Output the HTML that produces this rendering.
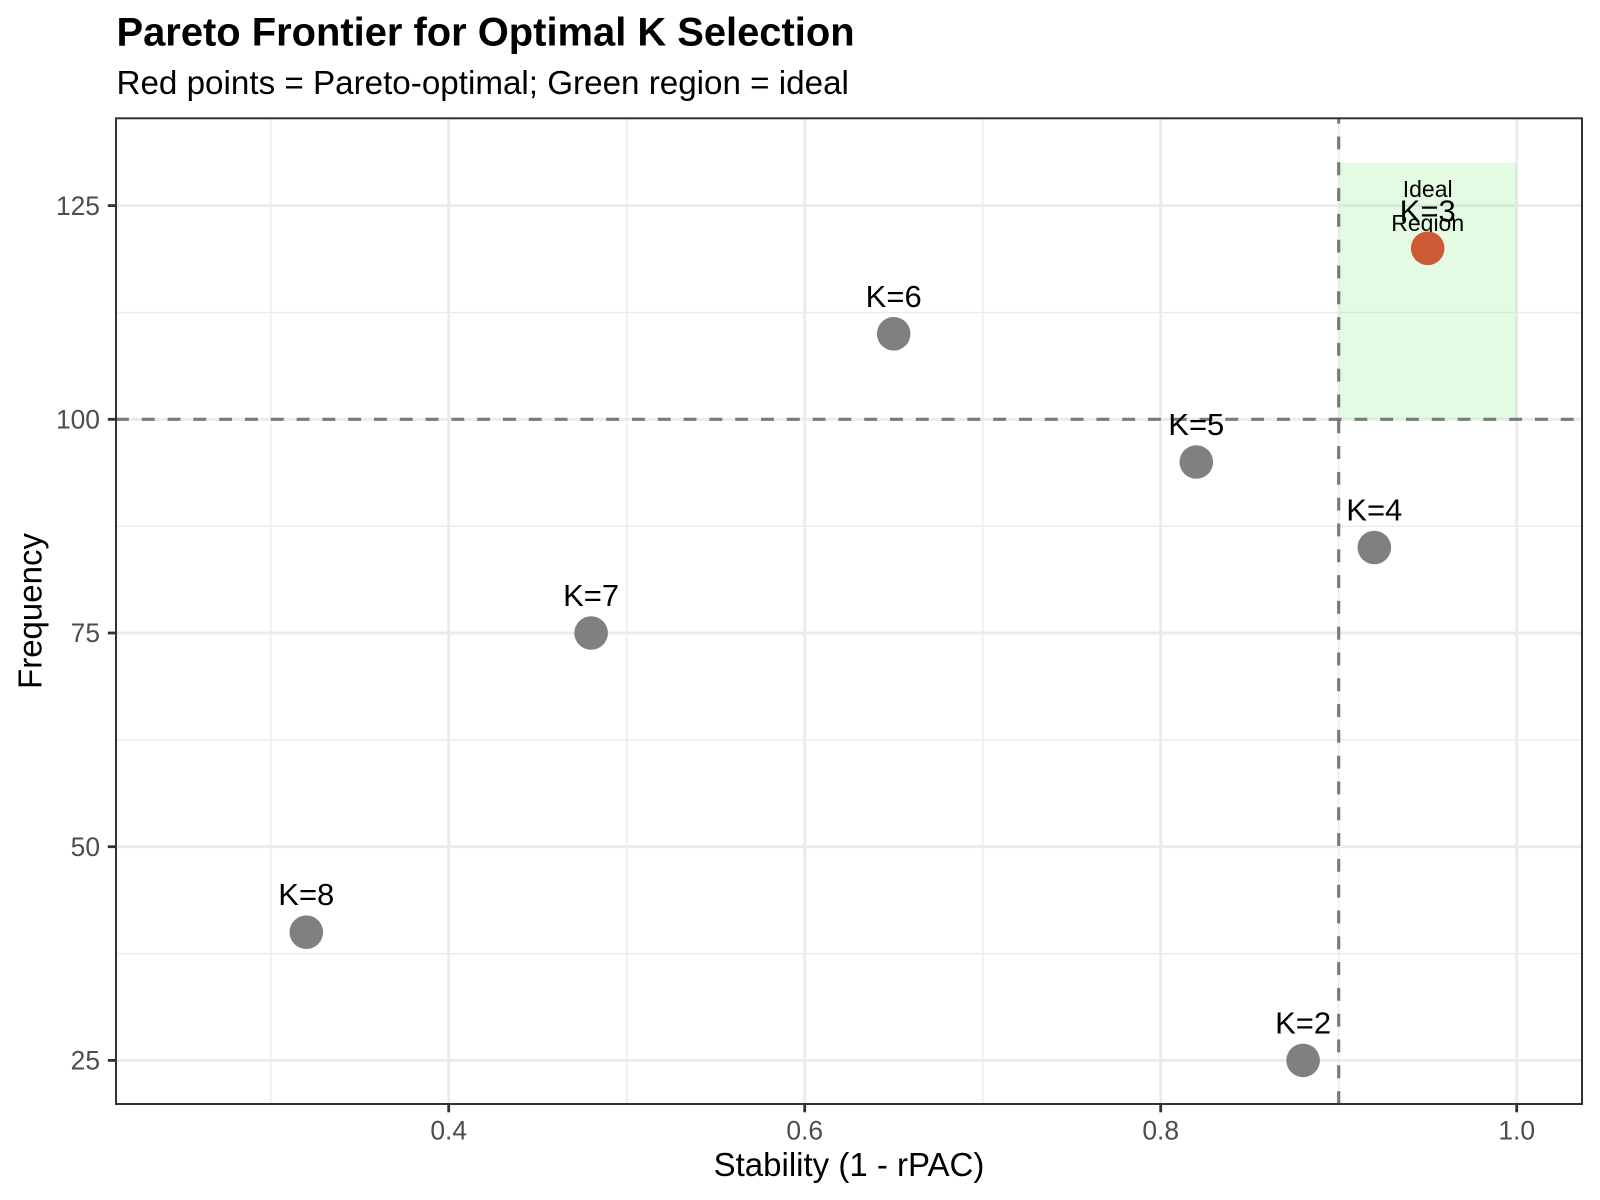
<!DOCTYPE html>
<html>
<head>
<meta charset="utf-8">
<style>
  html, body { margin: 0; padding: 0; background: #ffffff; }
  svg { display: block; }
  text { font-family: "Liberation Sans", Arial, Helvetica, sans-serif; }
</style>
</head>
<body>
<svg width="1600" height="1200" viewBox="0 0 1600 1200" xmlns="http://www.w3.org/2000/svg">
  <rect x="0" y="0" width="1600" height="1200" fill="#ffffff"/>

  <!-- Title / subtitle -->
  <text x="116.5" y="45.5" font-size="39.9" font-weight="bold" fill="#000000">Pareto Frontier for Optimal K Selection</text>
  <text x="116.5" y="94" font-size="33.2" fill="#000000">Red points = Pareto-optimal; Green region = ideal</text>

  <!-- Panel background -->
  <rect x="116" y="118.3" width="1466" height="985.7" fill="#ffffff"/>

  <!-- Minor gridlines -->
  <g stroke="#EBEBEB" stroke-width="1.5" fill="none">
    <line x1="270.7" y1="118.3" x2="270.7" y2="1104"/>
    <line x1="626.7" y1="118.3" x2="626.7" y2="1104"/>
    <line x1="982.7" y1="118.3" x2="982.7" y2="1104"/>
    <line x1="1338.7" y1="118.3" x2="1338.7" y2="1104"/>
    <line x1="116" y1="953.6" x2="1582" y2="953.6"/>
    <line x1="116" y1="739.9" x2="1582" y2="739.9"/>
    <line x1="116" y1="526.2" x2="1582" y2="526.2"/>
    <line x1="116" y1="312.5" x2="1582" y2="312.5"/>
  </g>
  <!-- Major gridlines -->
  <g stroke="#EBEBEB" stroke-width="2.9" fill="none">
    <line x1="448.7" y1="118.3" x2="448.7" y2="1104"/>
    <line x1="804.7" y1="118.3" x2="804.7" y2="1104"/>
    <line x1="1160.7" y1="118.3" x2="1160.7" y2="1104"/>
    <line x1="1516.7" y1="118.3" x2="1516.7" y2="1104"/>
    <line x1="116" y1="1060.4" x2="1582" y2="1060.4"/>
    <line x1="116" y1="846.7" x2="1582" y2="846.7"/>
    <line x1="116" y1="633.0" x2="1582" y2="633.0"/>
    <line x1="116" y1="419.3" x2="1582" y2="419.3"/>
    <line x1="116" y1="205.6" x2="1582" y2="205.6"/>
  </g>

  <!-- Ideal region -->
  <rect x="1338.7" y="162.9" width="178" height="256.4" fill="#90EE90" fill-opacity="0.26"/>

  <!-- Dashed reference lines -->
  <line x1="116" y1="419.3" x2="1582" y2="419.3" stroke="#7A7A7A" stroke-width="3.2" stroke-dasharray="12.9 12.9"/>
  <line x1="1338.7" y1="1104" x2="1338.7" y2="118.3" stroke="#7A7A7A" stroke-width="3.2" stroke-dasharray="12.9 12.9"/>

  <!-- Ideal region label -->
  <text x="1427.7" y="197.2" font-size="23" text-anchor="middle" fill="#000000">Ideal</text>
  <text x="1427.7" y="231" font-size="23" text-anchor="middle" fill="#000000">Region</text>

  <!-- Points -->
  <g fill="#808080">
    <circle cx="1303.1" cy="1060.4" r="16.8"/>
    <circle cx="1374.3" cy="547.5" r="16.8"/>
    <circle cx="1196.3" cy="462.0" r="16.8"/>
    <circle cx="893.7" cy="333.8" r="16.8"/>
    <circle cx="591.1" cy="633.0" r="16.8"/>
    <circle cx="306.3" cy="932.2" r="16.8"/>
  </g>
  <circle cx="1427.7" cy="248.3" r="16.8" fill="#CD5C36"/>

  <!-- Point labels -->
  <g font-size="31" text-anchor="middle" fill="#000000">
    <text x="1303.1" y="1033.4">K=2</text>
    <text x="1427.7" y="221.3">K=3</text>
    <text x="1374.3" y="520.5">K=4</text>
    <text x="1196.3" y="435.0">K=5</text>
    <text x="893.7" y="306.8">K=6</text>
    <text x="591.1" y="606.0">K=7</text>
    <text x="306.3" y="905.2">K=8</text>
  </g>

  <!-- Panel border -->
  <rect x="116" y="118.3" width="1466" height="985.7" fill="none" stroke="#333333" stroke-width="2"/>

  <!-- Axis ticks -->
  <g stroke="#333333" stroke-width="2.8">
    <line x1="107.8" y1="1060.4" x2="116" y2="1060.4"/>
    <line x1="107.8" y1="846.7" x2="116" y2="846.7"/>
    <line x1="107.8" y1="633.0" x2="116" y2="633.0"/>
    <line x1="107.8" y1="419.3" x2="116" y2="419.3"/>
    <line x1="107.8" y1="205.6" x2="116" y2="205.6"/>
    <line x1="448.7" y1="1104" x2="448.7" y2="1112.3"/>
    <line x1="804.7" y1="1104" x2="804.7" y2="1112.3"/>
    <line x1="1160.7" y1="1104" x2="1160.7" y2="1112.3"/>
    <line x1="1516.7" y1="1104" x2="1516.7" y2="1112.3"/>
  </g>

  <!-- Y tick labels -->
  <g font-size="26.4" text-anchor="end" fill="#4D4D4D">
    <text x="100" y="1069.6">25</text>
    <text x="100" y="855.9">50</text>
    <text x="100" y="642.2">75</text>
    <text x="100" y="428.5">100</text>
    <text x="100" y="214.8">125</text>
  </g>
  <!-- X tick labels -->
  <g font-size="26.4" text-anchor="middle" fill="#4D4D4D">
    <text x="448.7" y="1139.5">0.4</text>
    <text x="804.7" y="1139.5">0.6</text>
    <text x="1160.7" y="1139.5">0.8</text>
    <text x="1516.7" y="1139.5">1.0</text>
  </g>

  <!-- Axis titles -->
  <text x="849" y="1176" font-size="33" text-anchor="middle" fill="#000000">Stability (1 - rPAC)</text>
  <text transform="translate(41.5,611) rotate(-90)" x="0" y="0" font-size="33" text-anchor="middle" fill="#000000">Frequency</text>
</svg>
</body>
</html>
